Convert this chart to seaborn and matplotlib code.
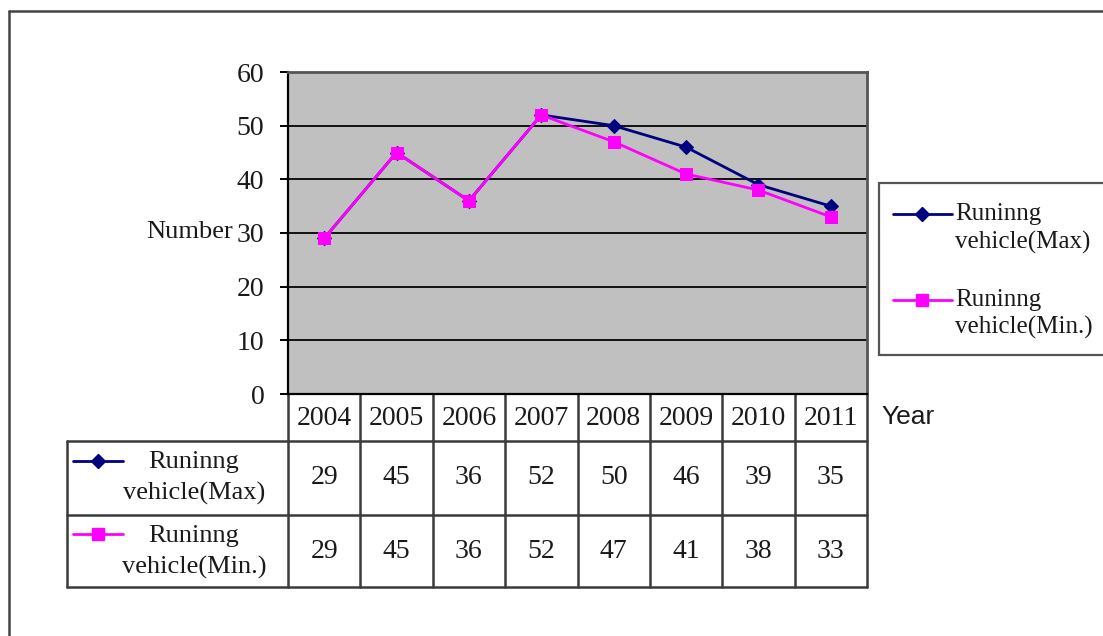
import numpy as np
import pandas as pd
import matplotlib
matplotlib.use('Agg')
import matplotlib.pyplot as plt
import seaborn as sns
from matplotlib.lines import Line2D
from matplotlib.patches import Rectangle

# ---- data ----
years = ['2004', '2005', '2006', '2007', '2008', '2009', '2010', '2011']
max_vals = [29, 45, 36, 52, 50, 46, 39, 35]
min_vals = [29, 45, 36, 52, 47, 41, 38, 33]
series_names = ['Max', 'Min']
series_labels = ['Runinng\nvehicle(Max)', 'Runinng\nvehicle(Min.)']
y_ticks = [0, 10, 20, 30, 40, 50, 60]
y_label = 'Number'
x_label = 'Year'

colors = {'Max': '#000080', 'Min': '#FF00FF'}
markers = {'Max': 'D', 'Min': 's'}
msizes = {'Max': 7, 'Min': 9}
TXT = '#1a1a1a'
NUM_FS = 20
WORD_FS = 19

sns.set_theme(style='white')
plt.rcParams['font.family'] = ['Liberation Serif', 'DejaVu Serif']

df = pd.DataFrame({
    'x': list(range(len(years))) * 2,
    'value': max_vals + min_vals,
    'series': ['Max'] * len(years) + ['Min'] * len(years),
})

W, H = 1103, 636
fig = plt.figure(figsize=(W / 100, H / 100), dpi=100)
fig.patch.set_facecolor('white')


def px(x0, y0, x1, y1):
    return [x0 / W, 1 - y1 / H, (x1 - x0) / W, (y1 - y0) / H]


ov = fig.add_axes([0, 0, 1, 1])
ov.set_xlim(0, W)
ov.set_ylim(H, 0)
ov.axis('off')

PL, PR, PT, PB = 288, 867, 72, 394
ax = fig.add_axes(px(PL, PT, PR, PB))
ax.set_facecolor('#C0C0C0')

for s in series_names:
    sub = df[df['series'] == s]
    sns.lineplot(data=sub, x='x', y='value', ax=ax, color=colors[s],
                 marker=markers[s], markersize=msizes[s], markeredgecolor=colors[s],
                 linewidth=2, legend=False, zorder=3)

ax.set_xlim(-0.5, len(years) - 0.5)
ax.set_ylim(y_ticks[0], y_ticks[-1])
ax.set_yticks(y_ticks)
ax.set_xticks([])
ax.set_xlabel('')
ax.yaxis.grid(True, color='#111111', linewidth=1.4)
ax.set_axisbelow(True)
ax.tick_params(axis='y', which='major', left=True, length=6, width=1.4,
               color='black', pad=11, labelsize=NUM_FS, labelcolor=TXT)
for side in ['left', 'bottom']:
    ax.spines[side].set_color('black')
    ax.spines[side].set_linewidth(1.6)
for side in ['top', 'right']:
    ax.spines[side].set_color('#555555')
    ax.spines[side].set_linewidth(2)
ax.set_ylabel(y_label, rotation=0, ha='right', va='center', fontsize=WORD_FS,
              color=TXT)
ax.yaxis.set_label_coords((233 - PL) / (PR - PL), (PB - 232) / (PB - PT))

# ---- outer frame ----
ov.plot([9, W], [11, 11], color='#444444', lw=1.8)
ov.plot([9, 9], [11, H], color='#444444', lw=1.8)

# ---- data table ----
n = len(years)
cw = (PR - PL) / n
TL = 67
hb, r1b, r2b = 441, 515, 587
tc = '#3a3a3a'
tlw = 1.8
for yy in [hb, r1b, r2b]:
    ov.plot([TL, PR], [yy, yy], color=tc, lw=tlw)
ov.plot([TL, TL], [hb, r2b], color=tc, lw=tlw)
for k in range(n + 1):
    xx = PL + k * cw
    ov.plot([xx, xx], [PB, r2b], color=tc, lw=tlw)
for k, yr in enumerate(years):
    xc = PL + (k + 0.5) * cw
    ov.text(xc, (PB + hb) / 2 + 1, yr, ha='center', va='center', fontsize=NUM_FS,
            color=TXT)
    ov.text(xc, (hb + r1b) / 2, str(max_vals[k]), ha='center', va='center',
            fontsize=NUM_FS, color=TXT)
    ov.text(xc, (r1b + r2b) / 2, str(min_vals[k]), ha='center', va='center',
            fontsize=NUM_FS, color=TXT)
ov.text(PR + 14, (PB + hb) / 2, x_label, ha='left', va='center', fontsize=WORD_FS,
        family=['Liberation Sans', 'DejaVu Sans'], color=TXT)

row_specs = [(461, 478), (534, 552)]
for s, lab, (ly, ty) in zip(series_names, series_labels, row_specs):
    ov.add_line(Line2D([73, 123], [ly, ly], color=colors[s], lw=2))
    ov.add_line(Line2D([98], [ly], color=colors[s], marker=markers[s],
                       markersize=msizes[s], markeredgecolor=colors[s]))
    ov.text(194, ty, lab, ha='center', va='center', fontsize=WORD_FS,
            linespacing=1.5, color=TXT, multialignment='center')

# ---- legend ----
ov.add_patch(Rectangle((879, 183), 260, 172, facecolor='white',
                       edgecolor='#555555', lw=1.6))
leg_specs = [(214, 228.5), (300, 314)]
for s, lab, (ly, ty) in zip(series_names, series_labels, leg_specs):
    ov.add_line(Line2D([893, 952], [ly, ly], color=colors[s], lw=2))
    ov.add_line(Line2D([922], [ly], color=colors[s], marker=markers[s],
                       markersize=msizes[s], markeredgecolor=colors[s]))
    ov.text(955, ty, lab, ha='left', va='center', fontsize=18,
            linespacing=1.3, color=TXT)

fig.savefig('out.png', dpi=100, facecolor='white')
